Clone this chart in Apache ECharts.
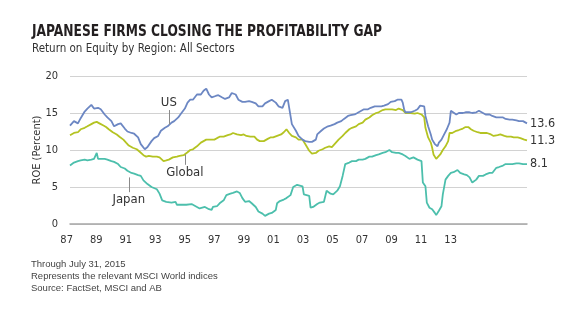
<!DOCTYPE html>
<html>
<head>
<meta charset="utf-8">
<script src="https://cdn.jsdelivr.net/npm/echarts@6/dist/echarts.min.js"></script>
<style>
  html, body { margin: 0; padding: 0; background: #fff; }
  #chart { width: 580px; height: 321px; }
</style>
</head>
<body>
<div id="chart"></div>
<script>
// Return on equity (%) by region, monthly samples, Jan 1987 – Jul 2015
const usData = [
  ['1987-01',13.3],['1987-04',13.9],['1987-07',13.6],['1987-09',14.3],['1987-12',15.2],
  ['1988-02',15.6],['1988-05',16.1],['1988-07',15.6],['1988-10',15.7],['1988-12',15.5],
  ['1989-03',14.8],['1989-05',14.4],['1989-08',13.9],['1989-10',13.2],['1990-01',13.5],
  ['1990-03',13.6],['1990-06',12.9],['1990-08',12.5],['1990-11',12.3],['1991-01',12.2],
  ['1991-04',11.7],['1991-06',10.8],['1991-09',10.1],['1991-10',10.0],['1991-11',10.4],
  ['1992-02',11.2],['1992-04',11.6],['1992-07',11.9],['1992-09',12.6],['1992-12',13.0],
  ['1993-02',13.2],['1993-05',13.7],['1993-07',13.9],['1993-10',14.4],['1993-12',14.9],
  ['1994-03',15.6],['1994-05',16.4],['1994-07',16.8],['1994-09',16.8],['1994-12',17.5],
  ['1995-03',17.5],['1995-05',18.0],['1995-07',18.3],['1995-09',17.5],['1995-11',17.1],
  ['1996-02',17.3],['1996-04',17.4],['1996-07',17.1],['1996-09',16.9],['1996-12',17.1],
  ['1997-02',17.7],['1997-05',17.5],['1997-07',16.8],['1997-10',16.5],['1997-12',16.5],
  ['1998-03',16.6],['1998-05',16.5],['1998-08',16.3],['1998-10',15.9],['1999-01',15.9],
  ['1999-03',16.3],['1999-06',16.6],['1999-08',16.8],['1999-11',16.4],['2000-01',15.9],
  ['2000-04',15.7],['2000-06',16.6],['2000-08',16.8],['2000-09',15.7],['2000-10',14.6],
  ['2000-11',13.5],['2001-02',12.6],['2001-04',11.9],['2001-07',11.4],['2001-09',11.2],
  ['2001-12',11.1],['2002-02',11.1],['2002-05',11.4],['2002-06',12.1],['2002-09',12.6],
  ['2002-11',12.9],['2003-02',13.2],['2003-04',13.3],['2003-07',13.5],['2003-09',13.7],
  ['2003-12',13.9],['2004-02',14.2],['2004-05',14.6],['2004-07',14.7],['2004-10',14.8],
  ['2004-12',15.0],['2005-03',15.3],['2005-05',15.5],['2005-08',15.5],['2005-10',15.7],
  ['2006-01',15.9],['2006-03',15.9],['2006-06',15.9],['2006-08',16.0],['2006-11',16.2],
  ['2007-01',16.5],['2007-04',16.6],['2007-06',16.8],['2007-09',16.8],['2007-10',16.4],
  ['2007-11',15.5],['2007-12',15.1],['2008-04',15.1],['2008-07',15.3],['2008-09',15.5],
  ['2008-11',16.0],['2009-02',15.9],['2009-03',14.6],['2009-05',13.2],['2009-07',12.1],
  ['2009-08',11.4],['2009-10',10.8],['2009-12',10.5],['2010-01',11.0],['2010-03',11.4],
  ['2010-05',12.1],['2010-07',12.8],['2010-09',13.7],['2010-10',15.3],['2010-11',15.1],
  ['2011-02',14.8],['2011-04',15.0],['2011-07',15.0],['2011-09',15.1],['2011-12',15.1],
  ['2012-02',15.0],['2012-05',15.1],['2012-07',15.3],['2012-10',15.0],['2012-12',14.8],
  ['2013-03',14.8],['2013-05',14.6],['2013-08',14.4],['2013-10',14.4],['2014-01',14.4],
  ['2014-03',14.2],['2014-06',14.1],['2014-08',14.1],['2014-11',14.0],['2015-01',13.9],
  ['2015-04',13.9],['2015-06',13.7],['2015-07',13.6]
];

const globalData = [
  ['1987-01',12.0],['1987-04',12.3],['1987-07',12.4],['1987-09',12.8],['1987-12',13.0],
  ['1988-02',13.2],['1988-05',13.5],['1988-07',13.7],['1988-09',13.8],['1988-11',13.6],
  ['1989-02',13.3],['1989-04',13.1],['1989-06',12.8],['1989-09',12.4],['1989-12',12.1],
  ['1990-02',11.8],['1990-05',11.4],['1990-07',11.0],['1990-09',10.6],['1990-12',10.3],
  ['1991-03',10.1],['1991-05',9.8],['1991-08',9.3],['1991-10',9.1],['1991-12',9.2],
  ['1992-03',9.1],['1992-06',9.1],['1992-08',9.0],['1992-11',8.5],['1993-01',8.6],
  ['1993-03',8.7],['1993-06',9.0],['1993-09',9.1],['1993-11',9.2],['1994-02',9.3],
  ['1994-05',9.7],['1994-07',10.0],['1994-09',10.1],['1994-12',10.5],['1995-03',11.0],
  ['1995-05',11.2],['1995-07',11.4],['1995-10',11.4],['1996-01',11.4],['1996-03',11.6],
  ['1996-05',11.8],['1996-08',11.8],['1996-11',12.0],['1997-01',12.1],['1997-03',12.3],
  ['1997-06',12.1],['1997-09',12.0],['1997-11',12.1],['1998-01',11.9],['1998-04',11.8],
  ['1998-07',11.8],['1998-09',11.4],['1998-11',11.2],['1999-02',11.2],['1999-05',11.5],
  ['1999-07',11.7],['1999-09',11.7],['1999-12',11.9],['2000-03',12.1],['2000-05',12.4],
  ['2000-07',12.8],['2000-09',12.3],['2000-11',11.9],['2001-02',11.7],['2001-04',11.4],
  ['2001-07',11.4],['2001-09',10.8],['2001-12',9.9],['2002-02',9.5],['2002-05',9.6],
  ['2002-07',9.9],['2002-10',10.1],['2002-12',10.3],['2003-03',10.5],['2003-05',10.4],
  ['2003-08',11.0],['2003-10',11.4],['2004-01',11.9],['2004-03',12.3],['2004-06',12.8],
  ['2004-08',13.0],['2004-11',13.2],['2005-01',13.5],['2005-04',13.7],['2005-06',14.1],
  ['2005-09',14.4],['2005-11',14.7],['2006-02',15.0],['2006-04',15.1],['2006-07',15.4],
  ['2006-09',15.5],['2006-12',15.5],['2007-02',15.5],['2007-05',15.4],['2007-07',15.6],
  ['2007-10',15.4],['2007-12',15.0],['2008-04',15.0],['2008-07',14.9],['2008-09',15.0],
  ['2008-12',14.8],['2009-02',14.4],['2009-03',13.0],['2009-05',11.7],['2009-07',11.0],
  ['2009-08',10.3],['2009-09',9.4],['2009-11',8.8],['2009-12',9.0],['2010-02',9.4],
  ['2010-04',10.0],['2010-06',10.5],['2010-08',11.2],['2010-09',12.3],['2010-11',12.3],
  ['2011-02',12.6],['2011-04',12.7],['2011-07',12.9],['2011-09',13.1],['2011-11',13.1],
  ['2012-01',12.8],['2012-03',12.6],['2012-06',12.4],['2012-08',12.3],['2012-11',12.3],
  ['2013-01',12.3],['2013-04',12.1],['2013-06',11.9],['2013-09',12.0],['2013-11',12.1],
  ['2014-02',11.9],['2014-04',11.8],['2014-07',11.8],['2014-09',11.7],['2014-12',11.7],
  ['2015-02',11.6],['2015-05',11.4],['2015-07',11.3]
];

const japanData = [
  ['1987-01',7.9],['1987-04',8.3],['1987-07',8.5],['1987-09',8.6],['1987-12',8.7],
  ['1988-02',8.6],['1988-05',8.7],['1988-07',8.8],['1988-09',9.6],['1988-10',8.8],
  ['1988-12',8.8],['1989-03',8.8],['1989-05',8.7],['1989-08',8.5],['1989-10',8.4],
  ['1990-01',8.1],['1990-03',7.7],['1990-06',7.5],['1990-08',7.2],['1990-11',6.9],
  ['1991-01',6.8],['1991-04',6.6],['1991-06',6.5],['1991-08',5.9],['1991-11',5.4],
  ['1992-02',5.0],['1992-06',4.7],['1992-08',4.1],['1992-10',3.2],['1993-01',3.0],
  ['1993-05',2.9],['1993-08',3.0],['1993-09',2.6],['1994-01',2.6],['1994-04',2.6],
  ['1994-08',2.7],['1994-11',2.4],['1995-02',2.1],['1995-06',2.3],['1995-09',2.0],
  ['1995-11',1.9],['1995-12',2.3],['1996-03',2.4],['1996-05',2.8],['1996-08',3.2],
  ['1996-10',3.9],['1997-01',4.1],['1997-03',4.2],['1997-06',4.4],['1997-08',4.2],
  ['1997-10',3.5],['1997-12',3.0],['1998-03',3.1],['1998-05',2.8],['1998-08',2.3],
  ['1998-10',1.7],['1999-01',1.4],['1999-03',1.1],['1999-06',1.4],['1999-08',1.5],
  ['1999-11',1.9],['1999-12',2.8],['2000-02',3.1],['2000-05',3.3],['2000-07',3.5],
  ['2000-10',3.9],['2000-12',5.0],['2001-03',5.3],['2001-07',5.1],['2001-08',4.0],
  ['2001-12',3.8],['2002-01',2.2],['2002-03',2.3],['2002-06',2.7],['2002-08',2.9],
  ['2002-11',3.0],['2003-01',4.5],['2003-04',4.1],['2003-06',4.0],['2003-09',4.5],
  ['2003-11',5.1],['2004-01',6.5],['2004-03',8.1],['2004-06',8.3],['2004-08',8.5],
  ['2004-11',8.5],['2005-01',8.7],['2005-04',8.7],['2005-06',8.8],['2005-09',9.1],
  ['2005-11',9.1],['2006-02',9.3],['2006-04',9.4],['2006-07',9.6],['2006-09',9.7],
  ['2006-12',10.0],['2007-02',9.7],['2007-05',9.6],['2007-07',9.6],['2007-10',9.4],
  ['2007-12',9.2],['2008-03',8.8],['2008-06',9.0],['2008-09',8.7],['2008-12',8.5],
  ['2009-01',5.6],['2009-03',5.1],['2009-04',2.9],['2009-06',2.2],['2009-08',2.0],
  ['2009-10',1.5],['2009-11',1.2],['2010-01',1.8],['2010-03',2.4],['2010-04',4.0],
  ['2010-06',6.0],['2010-08',6.5],['2010-10',6.9],['2010-12',7.0],['2011-03',7.3],
  ['2011-05',6.9],['2011-08',6.7],['2011-10',6.6],['2011-12',6.3],['2012-02',5.6],
  ['2012-05',6.0],['2012-07',6.5],['2012-10',6.5],['2012-12',6.7],['2013-03',6.9],
  ['2013-05',6.9],['2013-08',7.6],['2013-10',7.7],['2014-01',7.9],['2014-03',8.1],
  ['2014-06',8.1],['2014-08',8.1],['2014-11',8.2],['2015-01',8.2],['2015-04',8.1],
  ['2015-07',8.1]
];

// Year tick labels along the bottom
const yearTicks = [1987, 1989, 1991, 1993, 1995, 1997, 1999, 2001, 2003, 2005, 2007, 2009, 2011, 2013];

// Callout leader lines: [month, from value, to value]
const usCallout = ['1993-03', 13.4, 15.4];
const globalCallout = ['1994-03', 9.4, 8.0];
const japanCallout = ['1990-09', 6.3, 4.3];

const COND = '"DejaVu Sans Condensed", "Liberation Sans Narrow", "Roboto Condensed", sans-serif';
const PLAIN = '"Liberation Sans", Arial, sans-serif';
const COLORS = { us: '#6c87c3', global: '#b4c322', japan: '#4cbfac' };

function callout(c, text) {
  return {
    silent: true,
    symbol: 'none',
    lineStyle: { color: '#8a8a8a', width: 1, type: 'solid' },
    label: {
      show: true, position: 'end', distance: 1, formatter: text,
      color: '#333', fontFamily: COND, fontSize: 13
    },
    data: [[{ coord: [c[0] + '-01', c[1]] }, { coord: [c[0] + '-01', c[2]] }]]
  };
}

function lineSeries(name, data, color, co) {
  return {
    name, type: 'line', xAxisIndex: 0, yAxisIndex: 0,
    data: data.map(d => [d[0] + '-01', d[1]]),
    showSymbol: false, symbol: 'none',
    lineStyle: { color, width: 1.8 },
    itemStyle: { color },
    endLabel: {
      show: true, distance: 3,
      formatter: p => p.value[1].toFixed(1),
      color: '#333', fontFamily: COND, fontSize: 12.5
    },
    markLine: co,
    z: 3
  };
}

const chart = echarts.init(document.getElementById('chart'), null, { renderer: 'canvas' });

// Fit the title to a fixed width using a horizontal squeeze
const titleText = 'JAPANESE FIRMS CLOSING THE PROFITABILITY GAP';
const titleFont = 'bold 15px ' + COND;
const ctx = document.createElement('canvas').getContext('2d');
ctx.font = titleFont;
const titleScale = Math.min(1, 350 / ctx.measureText(titleText).width);

chart.setOption({
  animation: false,
  grid: [
    { left: 70, right: 53, top: 76, bottom: 97 },
    // band holding the year labels, which run on their own spacing
    { left: 60, right: 53, top: 76, bottom: 97, show: false }
  ],
  xAxis: [
    {
      type: 'time', gridIndex: 0, min: '1987-01-01', max: '2015-07-01',
      axisLine: { show: true, lineStyle: { color: '#a6a6a6', width: 1.5 } },
      axisTick: { show: false }, axisLabel: { show: false }, splitLine: { show: false }
    },
    {
      type: 'value', gridIndex: 1, min: 1986.55, max: 2018.17, position: 'bottom',
      axisLine: { show: false }, axisTick: { show: false }, splitLine: { show: false },
      axisLabel: {
        customValues: yearTicks, margin: 11,
        formatter: v => String(v % 100).padStart(2, '0'),
        color: '#333', fontFamily: COND, fontSize: 11
      }
    }
  ],
  yAxis: [
    {
      type: 'value', gridIndex: 0, min: 0, max: 20, interval: 5,
      name: 'ROE (Percent)', nameLocation: 'middle', nameGap: 27, nameRotate: 90,
      nameMoveOverlap: false,
      nameTextStyle: { color: '#333', fontFamily: COND, fontSize: 11 },
      axisLine: { show: false }, axisTick: { show: false },
      axisLabel: { color: '#333', fontFamily: COND, fontSize: 11, margin: 12 },
      splitLine: { lineStyle: { color: '#d2d2d2', width: 1 } }
    },
    {
      type: 'value', gridIndex: 1, min: 0, max: 20, show: false
    }
  ],
  series: [
    lineSeries('Japan', japanData, COLORS.japan, callout(japanCallout, 'Japan')),
    lineSeries('Global', globalData, COLORS.global, callout(globalCallout, 'Global')),
    lineSeries('US', usData, COLORS.us, callout(usCallout, 'US'))
  ],
  graphic: [
    {
      type: 'text', left: 32, top: 25, scaleX: titleScale,
      style: { text: titleText, font: titleFont, fill: '#231f20' }
    },
    {
      type: 'text', left: 32, top: 43,
      style: { text: 'Return on Equity by Region: All Sectors', font: '11.5px ' + COND, fill: '#333' }
    },
    {
      type: 'text', left: 31, top: 258,
      style: {
        text: 'Through July 31, 2015\nRepresents the relevant MSCI World indices\nSource: FactSet, MSCI and AB',
        font: '9.5px ' + PLAIN, lineHeight: 12, fill: '#444'
      }
    }
  ]
});
</script>
</body>
</html>
